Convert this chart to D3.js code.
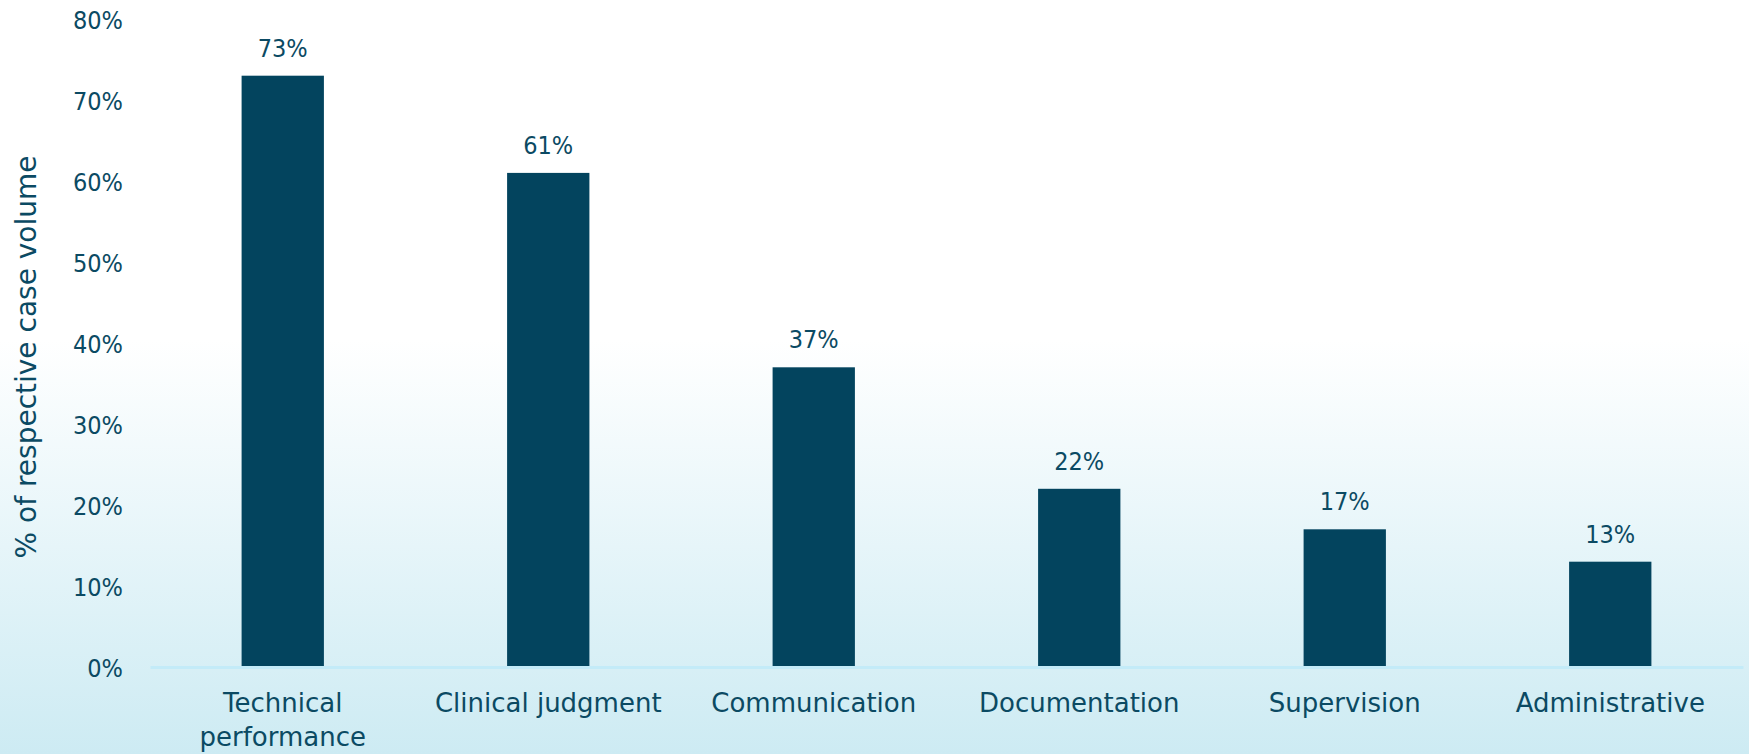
<!DOCTYPE html>
<html>
<head>
<meta charset="utf-8">
<script src="https://cdn.jsdelivr.net/npm/d3@7"></script>
<style>
  html, body { margin: 0; padding: 0; }
  body { width: 1749px; height: 754px; overflow: hidden; }
  svg { display: block; }
  text { font-family: "DejaVu Sans Condensed", "DejaVu Sans", sans-serif; fill: #0b4a63; }
</style>
</head>
<body>
<svg id="chart" width="1749" height="754"></svg>
<script>
// Share of case volume by contributing factor
const categories = ["Technical performance", "Clinical judgment", "Communication", "Documentation", "Supervision", "Administrative"];
const values = [73, 61, 37, 22, 17, 13];
const yTicks = [0, 10, 20, 30, 40, 50, 60, 70, 80];
const yTitle = "% of respective case volume";

const W = 1749, H = 754;
const svg = d3.select("#chart");

// background wash: white fading to pale blue toward the bottom
const defs = svg.append("defs");
const grad = defs.append("linearGradient")
  .attr("id", "bg").attr("x1", 0).attr("y1", 0).attr("x2", 0).attr("y2", 1);
grad.append("stop").attr("offset", "0%").attr("stop-color", "#ffffff");
grad.append("stop").attr("offset", "45%").attr("stop-color", "#ffffff");
grad.append("stop").attr("offset", "100%").attr("stop-color", "#cdebf3");
svg.append("rect").attr("width", W).attr("height", H).attr("fill", "url(#bg)");

const x = d3.scaleBand().domain(categories).range([150, 1743]).paddingInner(0.69).paddingOuter(0.345);
const y = d3.scaleLinear().domain([0, 80]).range([667, 19]);

// y axis labels (no line, no ticks)
const yAxis = d3.axisLeft(y).tickValues(yTicks).tickFormat(d => d + "%").tickSize(0).tickPadding(0);
const gy = svg.append("g").attr("transform", "translate(123,0)").call(yAxis);
gy.select(".domain").remove();
gy.selectAll("text")
  .style("font-family", '"DejaVu Sans Condensed", "DejaVu Sans", sans-serif')
  .style("font-size", "25px").attr("fill", "#0b4a63").attr("dy", "0.36em");

// bars
svg.append("g").selectAll("rect").data(values).join("rect")
  .attr("x", (d, i) => x(categories[i]))
  .attr("y", d => y(d))
  .attr("width", x.bandwidth())
  .attr("height", d => y(0) - y(d))
  .attr("fill", "#03445e");

// value labels
svg.append("g").selectAll("text").data(values).join("text")
  .attr("x", (d, i) => x(categories[i]) + x.bandwidth() / 2)
  .attr("y", d => y(d) - 19)
  .attr("text-anchor", "middle")
  .style("font-size", "25px")
  .text(d => d + "%");

// x axis baseline and category labels
const xAxis = d3.axisBottom(x).tickSize(0).tickPadding(0);
const gx = svg.append("g").attr("transform", `translate(0,${y(0)})`).call(xAxis);
gx.select(".domain").attr("stroke", "#c3ebf8").attr("stroke-width", 3);
gx.selectAll(".tick text").remove();
const wrapped = {"Technical performance": ["Technical", "performance"]};
gx.selectAll(".tick").append("text")
  .attr("text-anchor", "middle")
  .style("font-family", '"DejaVu Sans", sans-serif')
  .style("font-size", "26px")
  .attr("fill", "#0b4a63")
  .each(function(d) {
    const lines = wrapped[d] || [d];
    const t = d3.select(this);
    lines.forEach((ln, k) => {
      t.append("tspan").attr("x", 0).attr("y", 45 + k * 34).text(ln);
    });
  });

// y axis title
svg.append("text")
  .attr("transform", "translate(36,357) rotate(-90)")
  .attr("text-anchor", "middle")
  .style("font-family", '"DejaVu Sans", sans-serif')
  .style("font-size", "28px")
  .text(yTitle);
</script>
</body>
</html>
